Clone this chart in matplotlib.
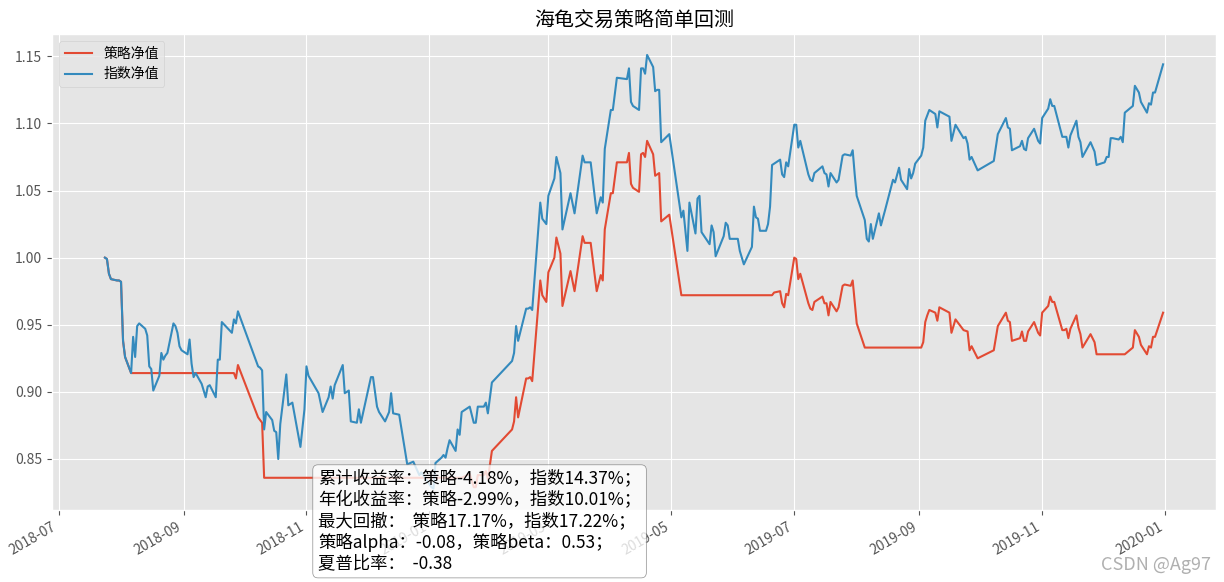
import matplotlib
matplotlib.use('Agg')
import matplotlib.pyplot as plt
import matplotlib.dates as mdates
import pandas as pd

# ---------------- data ----------------
idx_dates = [
    "2018-07-24", "2018-07-25", "2018-07-26", "2018-07-27", "2018-07-30", "2018-07-31", "2018-08-01", "2018-08-02", "2018-08-03", "2018-08-06",
    "2018-08-07", "2018-08-08", "2018-08-09", "2018-08-10", "2018-08-13", "2018-08-14", "2018-08-15", "2018-08-16", "2018-08-17", "2018-08-20",
    "2018-08-21", "2018-08-22", "2018-08-23", "2018-08-24", "2018-08-27", "2018-08-28", "2018-08-29", "2018-08-30", "2018-08-31", "2018-09-03",
    "2018-09-04", "2018-09-05", "2018-09-06", "2018-09-07", "2018-09-10", "2018-09-11", "2018-09-12", "2018-09-13", "2018-09-14", "2018-09-17",
    "2018-09-18", "2018-09-19", "2018-09-20", "2018-09-25", "2018-09-26", "2018-09-27", "2018-09-28", "2018-10-08", "2018-10-09", "2018-10-10",
    "2018-10-11", "2018-10-12", "2018-10-15", "2018-10-16", "2018-10-17", "2018-10-18", "2018-10-19", "2018-10-22", "2018-10-23", "2018-10-25",
    "2018-10-29", "2018-10-31", "2018-11-01", "2018-11-02", "2018-11-07", "2018-11-09", "2018-11-12", "2018-11-13", "2018-11-14", "2018-11-15",
    "2018-11-19", "2018-11-20", "2018-11-22", "2018-11-23", "2018-11-26", "2018-11-27", "2018-11-28", "2018-12-03", "2018-12-04", "2018-12-06",
    "2018-12-07", "2018-12-10", "2018-12-12", "2018-12-13", "2018-12-14", "2018-12-17", "2018-12-21", "2018-12-24", "2018-12-27", "2018-12-28",
    "2019-01-02", "2019-01-03", "2019-01-04", "2019-01-07", "2019-01-08", "2019-01-09", "2019-01-10", "2019-01-11", "2019-01-14", "2019-01-15",
    "2019-01-16", "2019-01-17", "2019-01-21", "2019-01-23", "2019-01-24", "2019-01-25", "2019-01-28", "2019-01-29", "2019-01-30", "2019-02-01",
    "2019-02-11", "2019-02-12", "2019-02-13", "2019-02-14", "2019-02-18", "2019-02-19", "2019-02-20", "2019-02-21", "2019-02-25", "2019-02-26",
    "2019-02-28", "2019-03-01", "2019-03-04", "2019-03-05", "2019-03-07", "2019-03-08", "2019-03-12", "2019-03-14", "2019-03-18", "2019-03-19",
    "2019-03-22", "2019-03-25", "2019-03-27", "2019-03-28", "2019-03-29", "2019-04-01", "2019-04-02", "2019-04-04", "2019-04-09", "2019-04-10",
    "2019-04-11", "2019-04-12", "2019-04-15", "2019-04-16", "2019-04-17", "2019-04-18", "2019-04-19", "2019-04-22", "2019-04-23", "2019-04-24",
    "2019-04-25", "2019-04-26", "2019-04-30", "2019-05-06", "2019-05-07", "2019-05-09", "2019-05-10", "2019-05-13", "2019-05-14", "2019-05-15",
    "2019-05-16", "2019-05-20", "2019-05-21", "2019-05-22", "2019-05-23", "2019-05-27", "2019-05-28", "2019-05-29", "2019-05-30", "2019-06-03",
    "2019-06-04", "2019-06-06", "2019-06-10", "2019-06-11", "2019-06-12", "2019-06-13", "2019-06-14", "2019-06-17", "2019-06-18", "2019-06-19",
    "2019-06-20", "2019-06-24", "2019-06-25", "2019-06-26", "2019-06-27", "2019-06-28", "2019-07-01", "2019-07-02", "2019-07-03", "2019-07-04",
    "2019-07-08", "2019-07-09", "2019-07-10", "2019-07-11", "2019-07-15", "2019-07-16", "2019-07-17", "2019-07-18", "2019-07-19", "2019-07-22",
    "2019-07-23", "2019-07-25", "2019-07-26", "2019-07-29", "2019-07-30", "2019-07-31", "2019-08-01", "2019-08-05", "2019-08-06", "2019-08-07",
    "2019-08-08", "2019-08-09", "2019-08-12", "2019-08-13", "2019-08-15", "2019-08-19", "2019-08-20", "2019-08-22", "2019-08-23", "2019-08-26",
    "2019-08-27", "2019-08-28", "2019-08-29", "2019-08-30", "2019-09-02", "2019-09-03", "2019-09-04", "2019-09-05", "2019-09-06", "2019-09-09",
    "2019-09-10", "2019-09-11", "2019-09-16", "2019-09-17", "2019-09-19", "2019-09-23", "2019-09-24", "2019-09-25", "2019-09-26", "2019-09-27",
    "2019-09-30", "2019-10-08", "2019-10-10", "2019-10-14", "2019-10-15", "2019-10-16", "2019-10-17", "2019-10-21", "2019-10-22", "2019-10-23",
    "2019-10-24", "2019-10-25", "2019-10-28", "2019-10-30", "2019-10-31", "2019-11-01", "2019-11-04", "2019-11-05", "2019-11-06", "2019-11-07",
    "2019-11-11", "2019-11-12", "2019-11-13", "2019-11-14", "2019-11-15", "2019-11-18", "2019-11-19", "2019-11-20", "2019-11-21", "2019-11-25",
    "2019-11-27", "2019-11-28", "2019-12-02", "2019-12-03", "2019-12-04", "2019-12-05", "2019-12-06", "2019-12-09", "2019-12-10", "2019-12-11",
    "2019-12-12", "2019-12-16", "2019-12-17", "2019-12-19", "2019-12-20", "2019-12-23", "2019-12-24", "2019-12-25", "2019-12-26", "2019-12-27",
    "2019-12-31",
]
idx_values = [
    1.000, 0.999, 0.988, 0.984, 0.983, 0.983, 0.982, 0.938, 0.926, 0.914,
    0.941, 0.926, 0.949, 0.951, 0.947, 0.942, 0.919, 0.917, 0.901, 0.912,
    0.929, 0.924, 0.927, 0.929, 0.951, 0.949, 0.944, 0.934, 0.931, 0.928,
    0.939, 0.921, 0.911, 0.914, 0.906, 0.901, 0.896, 0.904, 0.905, 0.896,
    0.924, 0.924, 0.952, 0.944, 0.954, 0.951, 0.960, 0.919, 0.918, 0.916,
    0.872, 0.885, 0.879, 0.871, 0.870, 0.850, 0.876, 0.913, 0.890, 0.892,
    0.859, 0.887, 0.919, 0.912, 0.899, 0.885, 0.896, 0.904, 0.895, 0.905,
    0.920, 0.899, 0.901, 0.878, 0.877, 0.887, 0.877, 0.911, 0.911, 0.889,
    0.885, 0.878, 0.885, 0.899, 0.884, 0.883, 0.846, 0.848, 0.838, 0.840,
    0.829, 0.828, 0.847, 0.851, 0.853, 0.851, 0.858, 0.864, 0.856, 0.872,
    0.868, 0.885, 0.889, 0.877, 0.877, 0.889, 0.889, 0.892, 0.884, 0.907,
    0.923, 0.929, 0.949, 0.938, 0.962, 0.962, 0.963, 0.961, 1.041, 1.029,
    1.025, 1.046, 1.059, 1.075, 1.063, 1.021, 1.048, 1.033, 1.076, 1.071,
    1.071, 1.033, 1.045, 1.041, 1.081, 1.110, 1.110, 1.134, 1.133, 1.141,
    1.116, 1.113, 1.110, 1.141, 1.141, 1.137, 1.151, 1.142, 1.124, 1.125,
    1.125, 1.086, 1.092, 1.030, 1.035, 1.005, 1.041, 1.018, 1.044, 1.046,
    1.019, 1.010, 1.024, 1.019, 1.001, 1.016, 1.026, 1.024, 1.014, 1.014,
    1.005, 0.995, 1.008, 1.038, 1.030, 1.029, 1.020, 1.020, 1.025, 1.038,
    1.069, 1.073, 1.062, 1.060, 1.071, 1.068, 1.099, 1.099, 1.082, 1.087,
    1.062, 1.058, 1.057, 1.063, 1.068, 1.063, 1.062, 1.053, 1.063, 1.056,
    1.058, 1.076, 1.077, 1.076, 1.080, 1.062, 1.046, 1.028, 1.014, 1.012,
    1.025, 1.014, 1.033, 1.024, 1.035, 1.058, 1.056, 1.067, 1.058, 1.051,
    1.066, 1.059, 1.063, 1.070, 1.076, 1.082, 1.102, 1.106, 1.110, 1.107,
    1.097, 1.109, 1.105, 1.087, 1.099, 1.089, 1.090, 1.085, 1.073, 1.075,
    1.065, 1.072, 1.092, 1.104, 1.097, 1.096, 1.080, 1.083, 1.087, 1.081,
    1.080, 1.089, 1.096, 1.087, 1.085, 1.104, 1.111, 1.118, 1.113, 1.113,
    1.090, 1.090, 1.090, 1.082, 1.091, 1.102, 1.090, 1.086, 1.075, 1.086,
    1.079, 1.069, 1.071, 1.075, 1.075, 1.089, 1.089, 1.088, 1.090, 1.086,
    1.108, 1.113, 1.128, 1.123, 1.116, 1.108, 1.115, 1.114, 1.123, 1.123,
    1.144,
]

stg_dates = [
    "2018-07-24", "2018-07-25", "2018-07-26", "2018-07-27", "2018-07-30", "2018-07-31", "2018-08-01", "2018-08-02", "2018-08-03", "2018-08-06",
    "2018-09-26", "2018-09-27", "2018-09-28", "2018-10-08", "2018-10-09", "2018-10-10", "2018-10-11", "2019-01-17", "2019-01-21", "2019-01-23",
    "2019-01-24", "2019-01-25", "2019-01-28", "2019-01-29", "2019-01-30", "2019-02-01", "2019-02-11", "2019-02-12", "2019-02-13", "2019-02-14",
    "2019-02-18", "2019-02-19", "2019-02-20", "2019-02-21", "2019-02-25", "2019-02-26", "2019-02-28", "2019-03-01", "2019-03-04", "2019-03-05",
    "2019-03-07", "2019-03-08", "2019-03-12", "2019-03-14", "2019-03-18", "2019-03-19", "2019-03-22", "2019-03-25", "2019-03-27", "2019-03-28",
    "2019-03-29", "2019-04-01", "2019-04-02", "2019-04-04", "2019-04-09", "2019-04-10", "2019-04-11", "2019-04-12", "2019-04-15", "2019-04-16",
    "2019-04-17", "2019-04-18", "2019-04-19", "2019-04-22", "2019-04-23", "2019-04-24", "2019-04-25", "2019-04-26", "2019-04-30", "2019-05-06",
    "2019-06-20", "2019-06-21", "2019-06-24", "2019-06-25", "2019-06-26", "2019-06-27", "2019-06-28", "2019-07-01", "2019-07-02", "2019-07-03",
    "2019-07-04", "2019-07-08", "2019-07-09", "2019-07-10", "2019-07-11", "2019-07-15", "2019-07-16", "2019-07-17", "2019-07-18", "2019-07-19",
    "2019-07-22", "2019-07-23", "2019-07-25", "2019-07-26", "2019-07-29", "2019-07-30", "2019-07-31", "2019-08-01", "2019-08-05", "2019-09-02",
    "2019-09-03", "2019-09-04", "2019-09-05", "2019-09-06", "2019-09-09", "2019-09-10", "2019-09-11", "2019-09-16", "2019-09-17", "2019-09-19",
    "2019-09-23", "2019-09-25", "2019-09-26", "2019-09-27", "2019-09-30", "2019-10-08", "2019-10-10", "2019-10-14", "2019-10-15", "2019-10-16",
    "2019-10-17", "2019-10-21", "2019-10-22", "2019-10-23", "2019-10-24", "2019-10-25", "2019-10-28", "2019-10-30", "2019-10-31", "2019-11-01",
    "2019-11-04", "2019-11-05", "2019-11-06", "2019-11-07", "2019-11-11", "2019-11-12", "2019-11-13", "2019-11-14", "2019-11-15", "2019-11-18",
    "2019-11-19", "2019-11-20", "2019-11-21", "2019-11-25", "2019-11-27", "2019-11-28", "2019-12-12", "2019-12-16", "2019-12-17", "2019-12-19",
    "2019-12-20", "2019-12-23", "2019-12-24", "2019-12-25", "2019-12-26", "2019-12-27", "2019-12-31",
]
stg_values = [
    1.000, 0.999, 0.988, 0.984, 0.983, 0.983, 0.982, 0.938, 0.926, 0.914,
    0.914, 0.910, 0.920, 0.881, 0.879, 0.877, 0.836, 0.836, 0.839, 0.829,
    0.829, 0.838, 0.838, 0.841, 0.835, 0.856, 0.872, 0.878, 0.896, 0.881,
    0.910, 0.910, 0.911, 0.908, 0.983, 0.972, 0.967, 0.989, 1.000, 1.015,
    1.003, 0.964, 0.990, 0.975, 1.016, 1.011, 1.011, 0.975, 0.987, 0.983,
    1.021, 1.048, 1.048, 1.071, 1.071, 1.078, 1.055, 1.052, 1.049, 1.077,
    1.078, 1.075, 1.087, 1.077, 1.061, 1.062, 1.063, 1.027, 1.032, 0.972,
    0.972, 0.974, 0.975, 0.966, 0.963, 0.973, 0.972, 1.000, 0.999, 0.984,
    0.988, 0.966, 0.962, 0.961, 0.967, 0.971, 0.966, 0.966, 0.957, 0.967,
    0.960, 0.963, 0.979, 0.980, 0.979, 0.983, 0.967, 0.951, 0.933, 0.933,
    0.937, 0.952, 0.957, 0.961, 0.959, 0.953, 0.963, 0.959, 0.944, 0.954,
    0.946, 0.945, 0.931, 0.934, 0.925, 0.931, 0.949, 0.959, 0.953, 0.952,
    0.938, 0.940, 0.945, 0.938, 0.938, 0.945, 0.952, 0.944, 0.942, 0.959,
    0.964, 0.971, 0.967, 0.967, 0.946, 0.946, 0.947, 0.940, 0.947, 0.957,
    0.948, 0.943, 0.933, 0.943, 0.937, 0.928, 0.928, 0.933, 0.946, 0.941,
    0.935, 0.928, 0.934, 0.933, 0.941, 0.941, 0.959,
]

series_labels = ["策略净值", "指数净值"]
title_text = "海龟交易策略简单回测"
stats_lines = [
    "累计收益率：策略-4.18%，指数14.37%；",
    "年化收益率：策略-2.99%，指数10.01%；",
    "最大回撤：  策略17.17%，指数17.22%；",
    "策略alpha：-0.08，策略beta：0.53；",
    "夏普比率：  -0.38",
]
watermark = "CSDN @Ag97"

# ---------------- plot ----------------
plt.style.use('ggplot')
plt.rcParams['font.family'] = ['Noto Sans CJK SC', 'DejaVu Sans']
plt.rcParams['axes.unicode_minus'] = False

W, H = 1224, 582
fig = plt.figure(figsize=(W / 100, H / 100), dpi=100)
ax = fig.add_axes([52 / W, 1 - 510 / H, (1216 - 52) / W, (510 - 34) / H])

ax.plot(pd.to_datetime(stg_dates), stg_values, label=series_labels[0], lw=1.5)
ax.plot(pd.to_datetime(idx_dates), idx_values, label=series_labels[1], lw=1.5)

ax.set_title(title_text)
ax.legend(loc='upper left')
ax.xaxis.set_major_locator(mdates.MonthLocator(bymonth=[1, 3, 5, 7, 9, 11]))
ax.xaxis.set_major_formatter(mdates.DateFormatter('%Y-%m'))
for lab in ax.get_xticklabels():
    lab.set_rotation(30)
    lab.set_ha('right')
ax.set_ylim(0.812, 1.1666)

fig.text(318 / W, 1 - 470 / H, "\n".join(stats_lines), fontsize=12.5, va='top', ha='left',
         linespacing=1.2,
         bbox=dict(boxstyle='round,pad=0.3', facecolor='white', edgecolor='0.45', alpha=0.8))
fig.text(1211 / W, 1 - 570 / H, watermark, ha='right', va='baseline', fontsize=13, color='#b0b0b0')

fig.savefig('out.png', dpi=100)
